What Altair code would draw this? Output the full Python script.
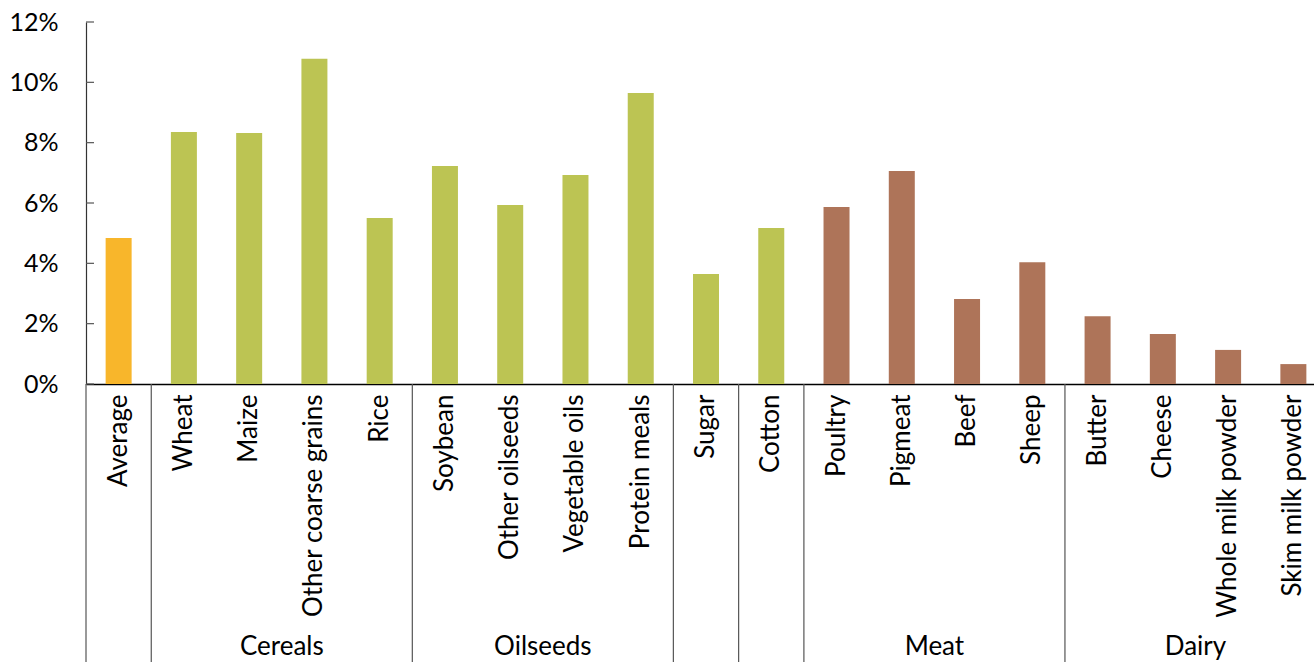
import altair as alt
import pandas as pd

categories = ["Average", "Wheat", "Maize", "Other coarse grains", "Rice",
              "Soybean", "Other oilseeds", "Vegetable oils", "Protein meals",
              "Sugar", "Cotton", "Poultry", "Pigmeat", "Beef", "Sheep",
              "Butter", "Cheese", "Whole milk powder", "Skim milk powder"]
values = [4.84, 8.35, 8.32, 10.78, 5.50,
          7.23, 5.93, 6.93, 9.65,
          3.65, 5.17, 5.87, 7.06, 2.82, 4.04,
          2.25, 1.66, 1.13, 0.66]
kinds = ["Average", "Crop", "Crop", "Crop", "Crop",
         "Crop", "Crop", "Crop", "Crop",
         "Crop", "Crop", "Livestock", "Livestock", "Livestock", "Livestock",
         "Livestock", "Livestock", "Livestock", "Livestock"]
kind_names = ["Average", "Crop", "Livestock"]
kind_colors = ["#F8B62B", "#BCC453", "#AE7459"]

# group boundaries (category at whose left edge a separator sits)
separator_at = ["Average", "Wheat", "Soybean", "Sugar", "Cotton", "Poultry", "Butter"]
# group labels and the category at whose left edge the label is centred
group_labels = ["Cereals", "Oilseeds", "Meat", "Dairy"]
group_anchor = ["Other coarse grains", "Vegetable oils", "Beef", "Whole milk powder"]

tick_values = [0, 0.02, 0.04, 0.06, 0.08, 0.10, 0.12]

FONT = "Lato"
W, H = 1228, 362
XRANGE = 1240  # the category axis runs a little past the right edge of the picture

df = pd.DataFrame({"cat": categories, "v": [x / 100 for x in values], "kind": kinds})
sep_df = pd.DataFrame({"cat": separator_at})
grp_df = pd.DataFrame({"cat": group_anchor, "label": group_labels})
tick_df = pd.DataFrame({"v": tick_values})

xscale = alt.Scale(domain=categories, paddingInner=0, paddingOuter=0, range=[0, XRANGE])
yscale = alt.Scale(domain=[0, 0.12], nice=False)

xaxis = alt.Axis(labelAngle=-90, labelFont=FONT, labelFontSize=26,
                 labelColor="#000000", labelPadding=10, labelLimit=400,
                 labelOverlap=False, ticks=False, domainColor="#000000",
                 domainWidth=1.5, grid=False)
yaxis = alt.Axis(values=tick_values, format=".0%", ticks=False, grid=False,
                 labelFont=FONT, labelFontSize=25, labelColor="#000000",
                 labelPadding=28, domainColor="#333333", domainWidth=1.2)

bars = alt.Chart(df).mark_bar(width=26).encode(
    x=alt.X("cat:N", scale=xscale, title=None, axis=xaxis),
    y=alt.Y("v:Q", scale=yscale, title=None, axis=yaxis),
    color=alt.Color("kind:N", scale=alt.Scale(domain=kind_names, range=kind_colors),
                    legend=None),
)

yticks = alt.Chart(tick_df).mark_rule(color="#555555", strokeWidth=1.2).encode(
    y=alt.Y("v:Q", scale=yscale, title=None, axis=yaxis),
    x=alt.value(0),
    x2=alt.value(8),
)

seps = alt.Chart(sep_df).mark_rule(color="#555555", strokeWidth=1.2).encode(
    x=alt.X("cat:N", scale=xscale, bandPosition=0, title=None, axis=xaxis),
    y=alt.value(H),
    y2=alt.value(640),
)

glabels = alt.Chart(grp_df).mark_text(font=FONT, fontSize=26, color="#000000",
                                      baseline="alphabetic", align="center").encode(
    x=alt.X("cat:N", scale=xscale, bandPosition=0, title=None, axis=xaxis),
    y=alt.value(633),
    text="label:N",
)

chart = alt.layer(bars, yticks, seps, glabels).properties(
    width=W, height=H,
    autosize=alt.AutoSizeParams(type="none"),
    padding={"left": 86, "top": 22, "right": 0, "bottom": 278},
    background="#ffffff",
).configure_view(stroke=None)

chart.save("out.html", embed_options={"renderer": "svg", "actions": False})
